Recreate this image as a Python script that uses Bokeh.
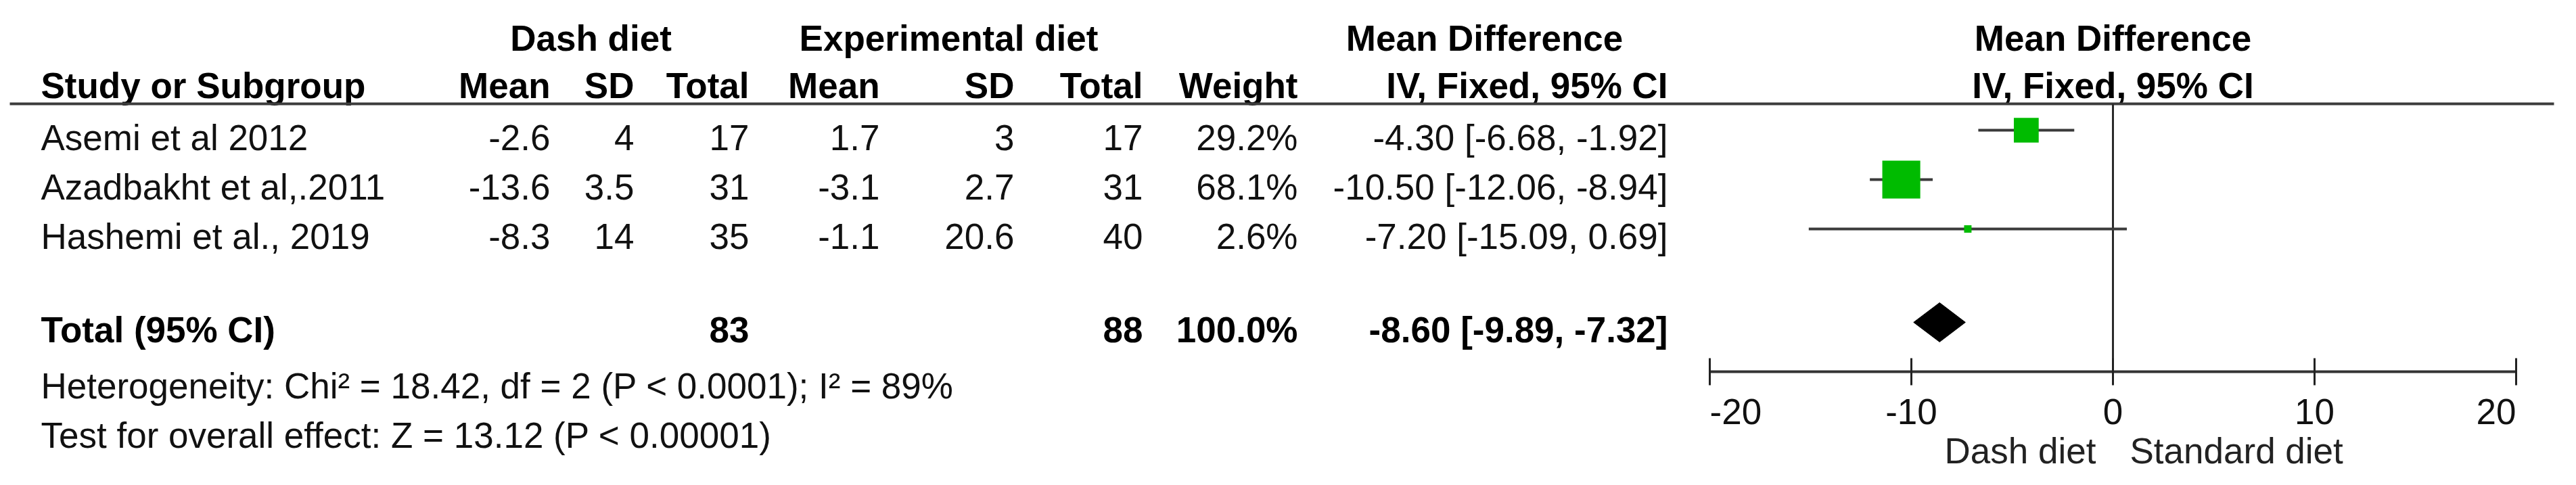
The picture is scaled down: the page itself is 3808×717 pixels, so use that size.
from bokeh.plotting import figure
from bokeh.models import Range1d
from bokeh.embed import file_html
from bokeh.resources import INLINE
from bokeh.core.properties import value
import math

# ---------------- data ----------------
studies = ["Asemi et al 2012", "Azadbakht et al,.2011", "Hashemi et al., 2019"]
dash_mean = [-2.6, -13.6, -8.3]
dash_sd = [4, 3.5, 14]
dash_n = [17, 31, 35]
exp_mean = [1.7, -3.1, -1.1]
exp_sd = [3, 2.7, 20.6]
exp_n = [17, 31, 40]
weight = [29.2, 68.1, 2.6]
md = [-4.30, -10.50, -7.20]
ci_lo = [-6.68, -12.06, -15.09]
ci_hi = [-1.92, -8.94, 0.69]
total_label = "Total (95% CI)"
total_dash_n = 83
total_exp_n = 88
total_weight = 100.0
total_md = -8.60
total_lo = -9.89
total_hi = -7.32
ticks = [-20, -10, 0, 10, 20]
heterogeneity = "Heterogeneity: Chi\u00b2 = 18.42, df = 2 (P < 0.0001); I\u00b2 = 89%"
overall = "Test for overall effect: Z = 13.12 (P < 0.00001)"
favours = ["Dash diet", "Standard diet"]
group_headers = ["Dash diet", "Experimental diet"]
col_headers = ["Mean", "SD", "Total", "Mean", "SD", "Total", "Weight"]
md_header = ["Mean Difference", "IV, Fixed, 95% CI"]

# ---------------- layout ----------------
W, H = 3792, 701
FONT = value("Liberation Sans")
FS = "53px"
CAP = 11  # baseline offset from visual centre of the text row

p = figure(width=W, height=H, x_range=Range1d(8, 8 + W), y_range=Range1d(8 + H, 8),
           output_backend="svg", toolbar_location=None, min_border=0)
p.xaxis.visible = False
p.yaxis.visible = False
p.grid.visible = False
p.outline_line_color = None
p.background_fill_color = "white"

# forest plot scale: -20 at px 2535, +20 at px 3727
px_lo, px_hi = 2535.0, 3727.0
upp = (ticks[-1] - ticks[0]) / (px_hi - px_lo)
zero_px = px_lo - ticks[0] / upp
p.extra_x_ranges = {"md": Range1d(start=(8 - zero_px) * upp, end=(8 + W - zero_px) * upp)}


def fmt(v):
    return ("%g" % v)


def txt(xs, ys, texts, align, bold=False, color="#000000", rng="default", x_offset=0):
    p.text(x=xs, y=[y + CAP for y in ys], text=texts, text_align=align,
           text_baseline="alphabetic", text_font=FONT, text_font_size=FS,
           text_font_style="bold" if bold else "normal", text_color=color,
           x_range_name=rng, x_offset=x_offset)


# column anchors (pixels)
LEFT = 68
col_right = [821, 945, 1115, 1308, 1507, 1697, 1926]
ci_right = 2473
row_y = [200, 273, 346]
hdr1_y, hdr2_y = 53, 123
total_y = 484
het_y, test_y = 567, 640
line_y = 161
axis_y = 557

# headers
txt([881, 1410], [hdr1_y, hdr1_y], group_headers, "center", bold=True)
txt([2202], [hdr1_y], [md_header[0]], "center", bold=True)
txt([LEFT], [hdr2_y], ["Study or Subgroup"], "left", bold=True)
txt(col_right, [hdr2_y] * len(col_right), col_headers, "right", bold=True)
txt([ci_right], [hdr2_y], [md_header[1]], "right", bold=True)
txt([0, 0], [hdr1_y, hdr2_y], md_header, "center", bold=True, rng="md")

# header rule
p.segment(x0=[22], x1=[3783], y0=[line_y], y1=[line_y], line_width=4, line_color="#3c3c3c")

# study rows
txt([LEFT] * 3, row_y, studies, "left", color="#111111")
cols = [dash_mean, dash_sd, dash_n, exp_mean, exp_sd, exp_n]
for cx, vals in zip(col_right[:6], cols):
    txt([cx] * 3, row_y, [fmt(v) for v in vals], "right", color="#111111")
txt([col_right[6]] * 3, row_y, ["%.1f%%" % w for w in weight], "right", color="#111111")
txt([ci_right] * 3, row_y,
    ["%.2f [%.2f, %.2f]" % (m, lo, hi) for m, lo, hi in zip(md, ci_lo, ci_hi)],
    "right", color="#111111")

# total row
txt([LEFT], [total_y], [total_label], "left", bold=True)
txt([col_right[2], col_right[5]], [total_y, total_y], [str(total_dash_n), str(total_exp_n)], "right", bold=True)
txt([col_right[6]], [total_y], ["%.1f%%" % total_weight], "right", bold=True)
txt([ci_right], [total_y], ["%.2f [%.2f, %.2f]" % (total_md, total_lo, total_hi)], "right", bold=True)

# footnotes
txt([LEFT, LEFT], [het_y, test_y], [heterogeneity, overall], "left", color="#111111")

# forest plot: zero line
p.segment(x0=[0], x1=[0], y0=[line_y], y1=[axis_y], line_width=3, line_color="#2a2a2a",
          x_range_name="md")
# CI lines
p.segment(x0=ci_lo, x1=ci_hi, y0=row_y, y1=row_y, line_width=4, line_color="#3a3a3a",
          x_range_name="md")
# weight boxes
p.scatter(x=md, y=row_y, marker="square", size=[6.8 * math.sqrt(w) for w in weight],
          fill_color="#00bb00", line_color=None, x_range_name="md")
# pooled diamond
dh = 29
p.patch(x=[total_lo, total_md, total_hi, total_md],
        y=[total_y, total_y - dh, total_y, total_y + dh],
        fill_color="#000000", line_color="#000000", x_range_name="md")

# axis
p.segment(x0=[ticks[0]], x1=[ticks[-1]], y0=[axis_y], y1=[axis_y], line_width=4,
          line_color="#333333", x_range_name="md")
p.segment(x0=ticks, x1=ticks, y0=[axis_y - 20] * len(ticks), y1=[axis_y + 20] * len(ticks),
          line_width=3, line_color="#222222", x_range_name="md")
aligns = ["left"] + ["center"] * (len(ticks) - 2) + ["right"]
for t, a in zip(ticks, aligns):
    txt([t], [605], [str(t)], a, color="#111111", rng="md")
txt([0], [663], [favours[0]], "right", color="#222222", rng="md", x_offset=-25)
txt([0], [663], [favours[1]], "left", color="#222222", rng="md", x_offset=25)

open("out.html", "w").write(file_html(p, INLINE))
